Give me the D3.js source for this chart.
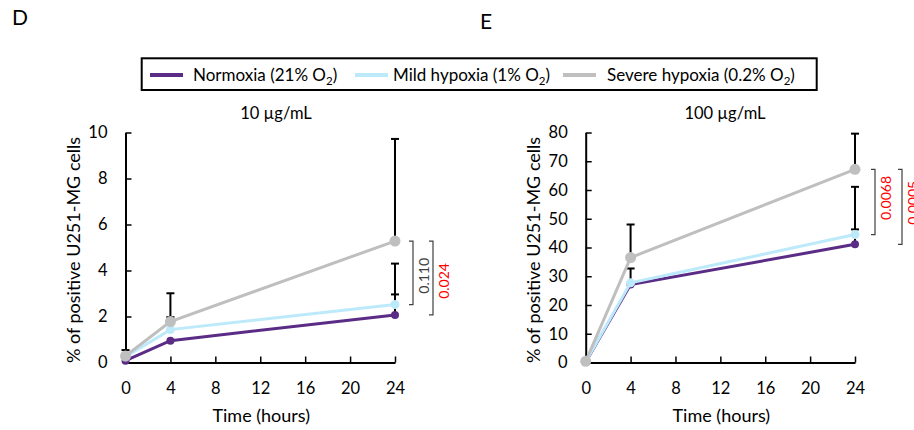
<!DOCTYPE html>
<html>
<head>
<meta charset="utf-8">
<script src="https://cdn.jsdelivr.net/npm/d3@7"></script>
<style>
  body { margin: 0; background: #fff; }
  text { font-family: Lato, Calibri, sans-serif; fill: #000; }
</style>
</head>
<body>
<div id="chart"></div>
<script>
// Data
const hours = [0, 4, 24];
const xTicks = [0, 4, 8, 12, 16, 20, 24];
const seriesNames = ["Normoxia", "Mild hypoxia", "Severe hypoxia"];
const oxygenLevels = ["21%", "1%", "0.2%"];
const panelLetters = ["D", "E"];
const panelTitles = ["10 µg/mL", "100 µg/mL"];

// 10 µg/mL
const yTicks10 = [0, 2, 4, 6, 8, 10];
const dose10Normoxia = [0.08, 0.95, 2.07];
const dose10Mild = [0.25, 1.43, 2.52];
const dose10Severe = [0.28, 1.78, 5.28];
const dose10NormoxiaErr = [0, 0, 0.89];
const dose10MildErr = [0, 0.54, 1.78];
const dose10SevereErr = [0.26, 1.23, 4.44];
const dose10Pairs = [["Severe hypoxia", "Mild hypoxia"], ["Severe hypoxia", "Normoxia"]];
const dose10PValues = ["0.110", "0.024"];

// 100 µg/mL
const yTicks100 = [0, 10, 20, 30, 40, 50, 60, 70, 80];
const dose100Normoxia = [0.2, 27.1, 41.1];
const dose100Mild = [0.3, 27.7, 44.5];
const dose100Severe = [0.4, 36.5, 67.2];
const dose100NormoxiaErr = [0, 0, 5.2];
const dose100MildErr = [0, 5.0, 16.6];
const dose100SevereErr = [0, 11.5, 12.4];
const dose100Pairs = [["Severe hypoxia", "Mild hypoxia"], ["Severe hypoxia", "Normoxia"]];
const dose100PValues = ["0.0068", "0.0005"];

const colors = { "Normoxia": "#5b2c86", "Mild hypoxia": "#bdeafa", "Severe hypoxia": "#bfbfbf" };
const radius = { "Normoxia": 4, "Mild hypoxia": 4.5, "Severe hypoxia": 5.5 };

const svg = d3.select("#chart")
    .append("svg")
    .attr("width", 914)
    .attr("height", 430);

// Panel letters
svg.append("text").attr("x", 12).attr("y", 25).attr("font-size", "21px").text(panelLetters[0]);
svg.append("text").attr("x", 480).attr("y", 29).attr("font-size", "21px").text(panelLetters[1]);

// Legend
svg.append("rect")
    .attr("x", 141.7).attr("y", 58.3)
    .attr("width", 675).attr("height", 31.7)
    .attr("fill", "none").attr("stroke", "#000").attr("stroke-width", 2);

const legendLineX = [150, 355, 563];
const legendTextX = [193, 393, 607];
seriesNames.forEach(function (name, i) {
    svg.append("line")
        .attr("x1", legendLineX[i]).attr("x2", legendLineX[i] + 33)
        .attr("y1", 75).attr("y2", 75)
        .attr("stroke", colors[name]).attr("stroke-width", 4);
    const t = svg.append("text")
        .attr("x", legendTextX[i]).attr("y", 81)
        .attr("font-size", "17px");
    t.append("tspan").text(`${name} (${oxygenLevels[i]} O`);
    t.append("tspan").attr("font-size", "11.5px").attr("dy", 4).text("2");
    t.append("tspan").attr("dy", -4).text(")");
});

function drawPanel(cfg) {
    const x = d3.scaleLinear().domain([0, 24]).range([cfg.left, cfg.right]);
    const y = d3.scaleLinear().domain([0, cfg.yMax]).range([362.5, 132.5]);
    const g = svg.append("g");

    // Title
    g.append("text")
        .attr("x", cfg.titleX).attr("y", 118.5)
        .attr("text-anchor", "middle")
        .attr("font-size", "16.5px")
        .text(cfg.title);

    // Axes
    const xAxis = g.append("g")
        .attr("transform", `translate(0,${y(0)})`)
        .call(d3.axisBottom(x).tickValues(xTicks).tickSizeInner(-6).tickSizeOuter(0).tickPadding(20));
    const yAxis = g.append("g")
        .attr("transform", `translate(${x(0)},0)`)
        .call(d3.axisLeft(y).tickValues(cfg.yTicks).tickSizeInner(-6).tickSizeOuter(0).tickPadding(18));
    [xAxis, yAxis].forEach(function (a) {
        a.select(".domain").attr("stroke", "#000").attr("stroke-width", 2);
        a.selectAll(".tick line").attr("stroke", "#000").attr("stroke-width", 1.5);
        a.selectAll(".tick text").attr("font-size", "16.5px").attr("font-family", "Lato, Calibri, sans-serif").attr("fill", "#000");
    });

    // Axis titles
    g.append("text")
        .attr("x", (cfg.left + cfg.right) / 2 + 1).attr("y", 422)
        .attr("text-anchor", "middle")
        .attr("font-size", "18px")
        .text("Time (hours)");
    g.append("text")
        .attr("transform", `translate(${x(0) - 53},250) rotate(-90)`)
        .attr("text-anchor", "middle")
        .attr("dominant-baseline", "central")
        .attr("font-size", "18px")
        .text("% of positive U251-MG cells");

    const line = d3.line()
        .x((d, i) => x(hours[i]))
        .y(d => y(d));

    seriesNames.forEach(function (name) {
        const values = cfg.values[name];
        const errs = cfg.errors[name];

        g.append("path")
            .datum(values)
            .attr("fill", "none")
            .attr("stroke", colors[name])
            .attr("stroke-width", 3)
            .attr("d", line);

        // One-sided (upper) error bars
        const bars = g.selectAll(null)
            .data(values.map((v, i) => ({ t: hours[i], v: v, e: errs[i] })).filter(d => d.e > 0))
            .enter()
            .append("g");
        bars.append("line")
            .attr("x1", d => x(d.t)).attr("x2", d => x(d.t))
            .attr("y1", d => y(d.v)).attr("y2", d => y(d.v + d.e))
            .attr("stroke", "#000").attr("stroke-width", 2);
        bars.append("line")
            .attr("x1", d => x(d.t) - 4).attr("x2", d => x(d.t) + 4)
            .attr("y1", d => y(d.v + d.e)).attr("y2", d => y(d.v + d.e))
            .attr("stroke", "#000").attr("stroke-width", 2);

        g.selectAll(null)
            .data(values)
            .enter()
            .append("circle")
            .attr("cx", (d, i) => x(hours[i]))
            .attr("cy", d => y(d))
            .attr("r", radius[name])
            .attr("fill", colors[name]);
    });

    // Significance brackets at 24 h
    const last = hours.length - 1;
    cfg.pairs.forEach(function (pair, k) {
        const bx = x(24) + cfg.bracketOffsets[k];
        const y1 = y(cfg.values[pair[0]][last]);
        const y2 = y(cfg.values[pair[1]][last]);
        g.append("path")
            .attr("d", `M${bx - 4},${y1} H${bx} V${y2} H${bx - 4}`)
            .attr("fill", "none")
            .attr("stroke", "#404040")
            .attr("stroke-width", 1.2);
        const p = cfg.pValues[k];
        g.append("text")
            .attr("transform", `translate(${bx + 10},${(y1 + y2) / 2 + cfg.labelShift}) rotate(-90)`)
            .attr("text-anchor", "middle")
            .attr("dominant-baseline", "central")
            .attr("font-size", "14px")
            .style("fill", +p < 0.05 ? "#ff0000" : "#404040")
            .text(p);
    });
}

drawPanel({
    left: 125.5, right: 395, yMax: 10, yTicks: yTicks10,
    title: panelTitles[0], titleX: 276,
    values: { "Normoxia": dose10Normoxia, "Mild hypoxia": dose10Mild, "Severe hypoxia": dose10Severe },
    errors: { "Normoxia": dose10NormoxiaErr, "Mild hypoxia": dose10MildErr, "Severe hypoxia": dose10SevereErr },
    pairs: dose10Pairs, pValues: dose10PValues,
    bracketOffsets: [18, 38], labelShift: 3
});

drawPanel({
    left: 585.7, right: 855, yMax: 80, yTicks: yTicks100,
    title: panelTitles[1], titleX: 725,
    values: { "Normoxia": dose100Normoxia, "Mild hypoxia": dose100Mild, "Severe hypoxia": dose100Severe },
    errors: { "Normoxia": dose100NormoxiaErr, "Mild hypoxia": dose100MildErr, "Severe hypoxia": dose100SevereErr },
    pairs: dose100Pairs, pValues: dose100PValues,
    bracketOffsets: [20, 47], labelShift: -4
});
</script>
</body>
</html>
